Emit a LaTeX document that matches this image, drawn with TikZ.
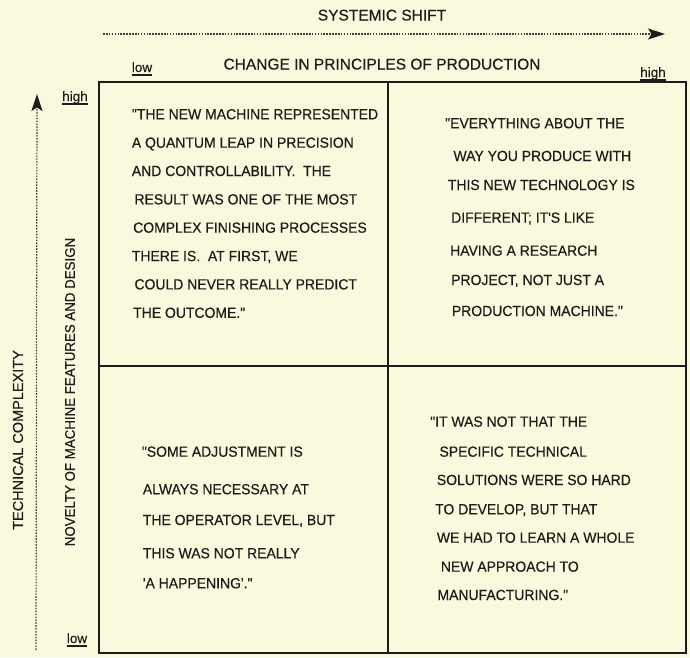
\documentclass[tikz,border=0pt]{standalone}
\usepackage{fontspec}
\newfontfamily\lab[FakeBold=0.35]{Liberation Sans}
\newfontfamily\labn[FakeBold=0.35,FakeStretch=0.95]{Liberation Sans}
\usetikzlibrary{arrows.meta}
\definecolor{paper}{RGB}{250,249,222}
\definecolor{ink}{RGB}{28,28,26}
\tikzset{
  qt/.style={anchor=base west, inner sep=0pt, text=ink, font=\labn\fontsize{14.7}{16}\selectfont},
  head/.style={anchor=base, inner sep=0pt, text=ink, font=\lab\fontsize{15.5}{17}\selectfont},
  sidelab/.style={inner sep=0pt, text=ink, rotate=90},
  endlab/.style={anchor=base, inner sep=0pt, text=ink, font=\lab\fontsize{13.5}{15}\selectfont},
  uline/.style={draw=ink, line width=1.3pt},
  frame/.style={draw=ink, line width=1.6pt},
  dotline/.style={draw=black!75, line width=1.2pt, dash pattern=on 1.6pt off 1.3pt},
  tip/.style={-{Stealth[length=17pt,width=11pt,inset=3.5pt,color=ink]}}
}
\begin{document}
\begin{tikzpicture}[x=1pt,y=-1pt]
\fill[paper] (0,0) rectangle (690,657);
\useasboundingbox (0,0) rectangle (690,657);

% headings
\node[head] (sys) at (382,20.5) {SYSTEMIC SHIFT};
\node[head] (chg) at (382,69.5) {CHANGE IN PRINCIPLES OF PRODUCTION};
\coordinate (hs) at (103,34);
\coordinate (he) at (665,34);
\draw[dotline,tip] (hs) -- (he);

% end labels, underlined
\node[endlab] (lowtop) at (142,72) {low};
\node[endlab] (hightop) at (653,77) {high};
\node[endlab] (highleft) at (75,101) {high};
\node[endlab] (lowleft) at (77,643) {low};
\draw[uline] ([yshift=-3pt]lowtop.base west) -- ([yshift=-3pt]lowtop.base east);
\draw[uline] ([yshift=-3pt]hightop.base west) -- ([yshift=-3pt]hightop.base east);
\draw[uline] ([yshift=-3pt]highleft.base west) -- ([yshift=-3pt]highleft.base east);
\draw[uline] ([yshift=-3pt]lowleft.base west) -- ([yshift=-3pt]lowleft.base east);

% side labels
\node[sidelab, font=\lab\fontsize{14.5}{16}\selectfont] (tech) at (18,440) {TECHNICAL COMPLEXITY};
\node[sidelab, font=\labn\fontsize{14}{15}\selectfont] (nov) at (70,392) {NOVELTY OF MACHINE FEATURES AND DESIGN};
\coordinate (vs) at (36,650);
\coordinate (ve) at (37,94);
\draw[dotline,tip] (vs) -- (ve);

% frame
\draw[frame] (99,82) rectangle (686,653);
\draw[frame] (388,82) -- (388,653);
\draw[frame] (99,366) -- (686,366);

% quadrant 1
\node[qt] (a1) at (131.7,119.3) {"THE NEW MACHINE REPRESENTED};
\node[qt] (a2) at (131.7,147.7) {A QUANTUM LEAP IN PRECISION};
\node[qt] (a3) at (131.7,176.0) {AND CONTROLLABILITY.\ \ THE};
\node[qt] (a4) at (134.3,204.4) {RESULT WAS ONE OF THE MOST};
\node[qt] (a5) at (133.0,232.7) {COMPLEX FINISHING PROCESSES};
\node[qt] (a6) at (131.7,261.1) {THERE IS.\ \ AT FIRST, WE};
\node[qt] (a7) at (134.3,289.4) {COULD NEVER REALLY PREDICT};
\node[qt] (a8) at (133.0,317.8) {THE OUTCOME."};

% quadrant 2
\node[qt] (b1) at (445.0,128.3) {"EVERYTHING ABOUT THE};
\node[qt] (b2) at (453.3,161.0) {WAY YOU PRODUCE WITH};
\node[qt] (b3) at (447.7,190.0) {THIS NEW TECHNOLOGY IS};
\node[qt] (b4) at (451.0,222.7) {DIFFERENT; IT'S LIKE};
\node[qt] (b5) at (450.0,255.7) {HAVING A RESEARCH};
\node[qt] (b6) at (451.0,285.0) {PROJECT, NOT JUST A};
\node[qt] (b7) at (451.7,316.0) {PRODUCTION MACHINE."};

% quadrant 3
\node[qt] (c1) at (141.7,456.7) {"SOME ADJUSTMENT IS};
\node[qt] (c2) at (142.7,494.3) {ALWAYS NECESSARY AT};
\node[qt] (c3) at (142.7,525.0) {THE OPERATOR LEVEL, BUT};
\node[qt] (c4) at (142.7,558.3) {THIS WAS NOT REALLY};
\node[qt] (c5) at (142.7,588.3) {'A HAPPENING'."};

% quadrant 4
\node[qt] (d1) at (430.0,426.7) {"IT WAS NOT THAT THE};
\node[qt] (d2) at (439.3,456.7) {SPECIFIC TECHNICAL};
\node[qt] (d3) at (436.7,485.0) {SOLUTIONS WERE SO HARD};
\node[qt] (d4) at (435.0,514.3) {TO DEVELOP, BUT THAT};
\node[qt] (d5) at (436.7,542.7) {WE HAD TO LEARN A WHOLE};
\node[qt] (d6) at (440.7,571.7) {NEW APPROACH TO};
\node[qt] (d7) at (437.3,600.0) {MANUFACTURING."};
\end{tikzpicture}
\end{document}
